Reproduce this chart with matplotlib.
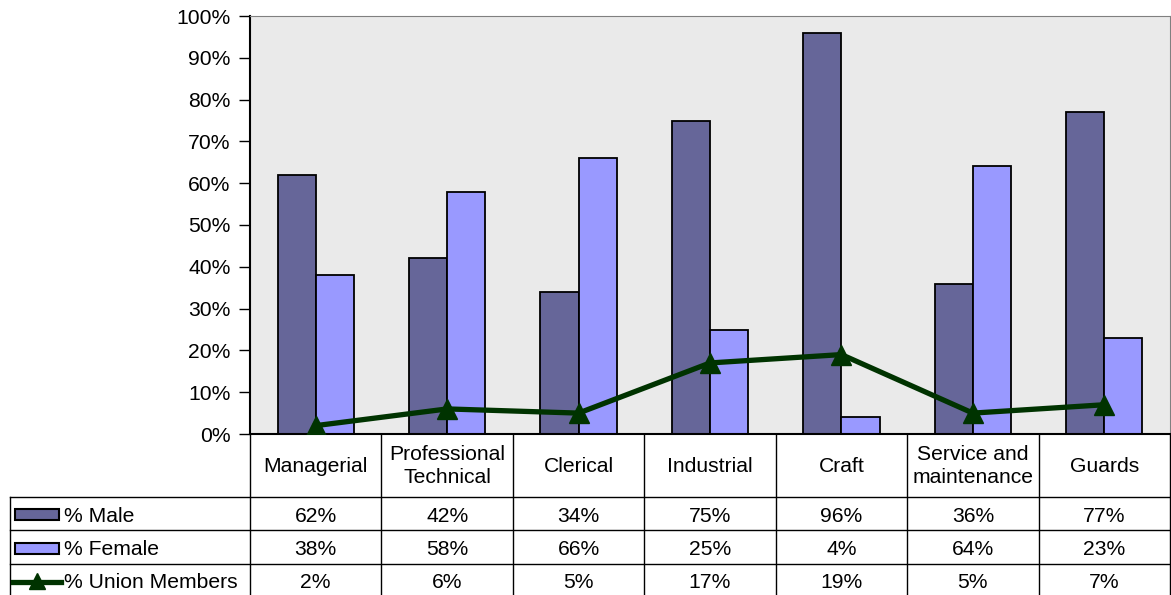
import matplotlib
matplotlib.use("Agg")
import matplotlib.pyplot as plt
import numpy as np
from matplotlib.patches import Rectangle
from matplotlib.lines import Line2D

categories = ["Managerial", "Professional\nTechnical", "Clerical", "Industrial",
              "Craft", "Service and\nmaintenance", "Guards"]
male = [62, 42, 34, 75, 96, 36, 77]
female = [38, 58, 66, 25, 4, 64, 23]
union = [2, 6, 5, 17, 19, 5, 7]
series_names = ["% Male", "% Female", "% Union Members"]
y_ticks = [0, 10, 20, 30, 40, 50, 60, 70, 80, 90, 100]

MALE_C = "#666699"
FEMALE_C = "#9999FF"
LINE_C = "#003300"

plt.rcParams["font.family"] = ["Liberation Sans", "DejaVu Sans"]
FS = 15.2

W, H = 1171, 595
fig = plt.figure(figsize=(W / 100, H / 100), dpi=100)

# plot area in pixels
left, right, top, bottom = 250, 1170, 16, 434
ax = fig.add_axes([left / W, 1 - bottom / H, (right - left) / W, (bottom - top) / H])
ax.set_facecolor("#EAEAEA")

n = len(categories)
x = np.arange(n)
bw = 0.29
ax.bar(x - bw / 2, male, bw, color=MALE_C, edgecolor="black", linewidth=1.3, zorder=2)
ax.bar(x + bw / 2, female, bw, color=FEMALE_C, edgecolor="black", linewidth=1.3, zorder=2)
ax.plot(x, union, color=LINE_C, linewidth=3.8, marker="^", markersize=14, zorder=3)

ax.set_xlim(-0.5, n - 0.5)
ax.set_ylim(0, 100)
ax.set_yticks(y_ticks)
ax.set_yticklabels([f"{t}%" for t in y_ticks], fontsize=FS)
ax.tick_params(axis="y", direction="out", length=8, width=1, pad=6)
ax.set_xticks([])
for s in ["top", "right"]:
    ax.spines[s].set_color("#808080")
ax.spines["left"].set_linewidth(1.5)
ax.spines["bottom"].set_linewidth(1.5)

# data table drawn in pixel coordinates
tab = fig.add_axes([0, 0, 1, 1])
tab.set_xlim(0, W)
tab.set_ylim(H, 0)
tab.axis("off")

cw = (right - left) / n
rows = [434, 497, 530, 564, 597]
tleft = 10
lc = "black"
lw = 1.0
for i in range(n + 1):
    xe = left + i * cw
    tab.plot([xe, xe], [rows[0], H], color=lc, lw=lw)
tab.plot([tleft, tleft], [rows[1], H], color=lc, lw=lw)
for r in rows[1:4]:
    tab.plot([tleft, W], [r, r], color=lc, lw=lw)

for i, c in enumerate(categories):
    tab.text(left + (i + 0.5) * cw, (rows[0] + rows[1]) / 2 + 0.5, c, ha="center", va="center",
             fontsize=FS, linespacing=1.22)

for ri, vals in enumerate([male, female, union]):
    yc = (rows[ri + 1] + rows[ri + 2]) / 2
    for i, v in enumerate(vals):
        tab.text(left + (i + 0.5) * cw, yc + 2.5, f"{v}%", ha="center", va="center", fontsize=FS)
    tab.text(64, yc + 2.5, series_names[ri], ha="left", va="center", fontsize=FS)

# legend keys
for ri, col in enumerate([MALE_C, FEMALE_C]):
    yc = (rows[ri + 1] + rows[ri + 2]) / 2
    tab.add_patch(Rectangle((15, yc - 4.5), 44, 11, facecolor=col, edgecolor="black", lw=1.5))
yc = (rows[3] + rows[4]) / 2
tab.add_line(Line2D([13, 61], [yc + 1.5, yc + 1.5], color=LINE_C, lw=3.8))
tab.add_line(Line2D([37], [yc + 0.5], color=LINE_C, marker="^", markersize=11))

fig.savefig("out.png", dpi=100)
